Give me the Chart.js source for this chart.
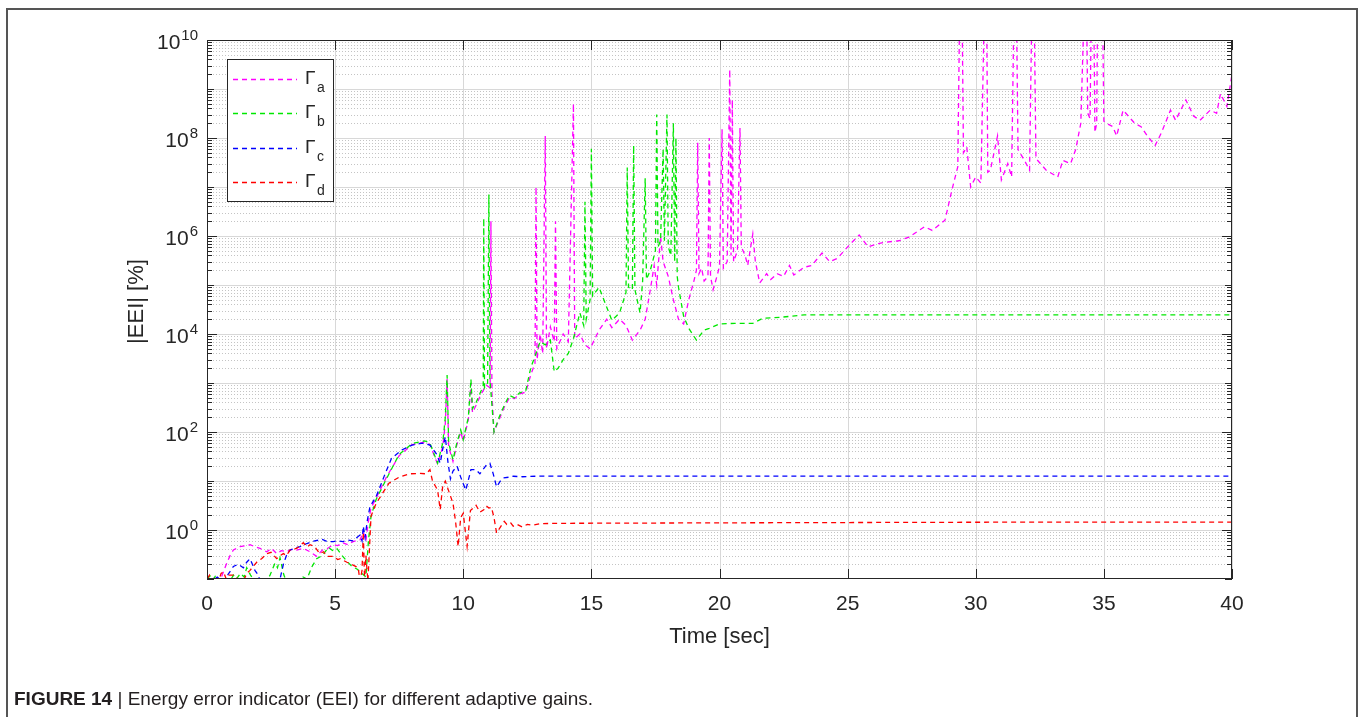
<!DOCTYPE html>
<html>
<head>
<meta charset="utf-8">
<script src="https://cdn.jsdelivr.net/npm/chart.js@4.4.1/dist/chart.umd.min.js"></script>
<style>
  html, body { margin: 0; padding: 0; background: #fff; }
  #wrap { position: relative; width: 1363px; height: 717px; overflow: hidden; }
  #frame { position: absolute; left: 6px; top: 8px; width: 1348px; height: 730px; border: 2px solid #555; border-bottom: none; }
  #chart { position: absolute; left: 0; top: 0; }
  #caption { position: absolute; left: 14px; top: 688px; font: 19px "Liberation Sans", Arial, sans-serif; color: #231f20; white-space: nowrap; }
</style>
</head>
<body>
<div id="wrap">
  <div id="frame"></div>
  <canvas id="chart" width="1363" height="717"></canvas>
  <div id="caption"><b>FIGURE 14</b> | Energy error indicator (EEI) for different adaptive gains.</div>
</div>
<script>
/* global Chart */

// [time (s), |EEI| (%)]
const GAMMA_A = [
    [0, 0.09], [0.5, 0.09], [0.77, 0.21], [0.9, 0.3], [1.03, 0.39], [1.29, 0.46], [1.5, 0.48], [1.68, 0.5],
    [1.9, 0.45], [2.07, 0.42], [2.33, 0.36], [2.52, 0.42], [2.72, 0.33], [2.9, 0.38], [3.1, 0.36], [3.3, 0.4],
    [3.5, 0.39], [3.76, 0.42], [4.02, 0.36], [4.28, 0.29], [4.5, 0.39], [4.7, 0.42], [4.93, 0.5], [5.1, 0.48],
    [5.3, 0.55], [5.5, 0.5], [5.7, 0.58], [5.97, 0.63], [6.1, 0.9], [6.2, 0.6], [6.3, 1.5], [6.4, 2.8],
    [6.6, 4.5], [7.0, 12], [7.5, 33], [8.0, 55], [8.5, 62], [8.7, 55], [9.0, 22], [9.2, 50], [9.3, 150],
    [9.37, 1200], [9.43, 50], [9.6, 25], [9.75, 55], [9.9, 100], [10.0, 65], [10.2, 180], [10.3, 1000],
    [10.36, 250], [10.5, 350], [10.7, 600], [10.9, 900], [11.05, 800], [11.08, 2e6], [11.12, 600],
    [11.2, 100], [11.4, 180], [11.6, 320], [11.8, 500], [12.0, 480], [12.2, 600], [12.44, 650],
    [12.64, 1500], [12.8, 2500], [12.84, 1e7], [12.88, 3000], [13.0, 1e4], [13.1, 4000], [13.2, 1.1e8],
    [13.25, 5000], [13.4, 1.4e4], [13.55, 7000], [13.6, 2e6], [13.65, 5000], [13.9, 1e4], [14.1, 7000],
    [14.3, 5e8], [14.35, 8000], [14.55, 1e4], [14.75, 6000], [14.95, 5000], [15.3, 1.2e4], [15.6, 2e4],
    [15.8, 1.35e4], [16.1, 2e4], [16.35, 1.5e4], [16.6, 7500], [16.9, 1.2e4], [17.1, 2e4], [17.3, 8e4],
    [17.45, 2.5e5], [17.55, 1e5], [17.7, 1e6], [17.8, 3e5], [18.0, 1.5e5], [18.2, 5e4], [18.4, 2e4],
    [18.6, 1.6e4], [18.8, 5e4], [19.0, 1.2e5], [19.1, 2e5], [19.15, 8e7], [19.2, 1.7e5], [19.3, 2.2e5],
    [19.4, 1.2e5], [19.55, 1.5e5], [19.6, 1e8], [19.65, 1.5e5], [19.75, 8e4], [19.9, 1.5e5], [20.0, 2.4e5],
    [20.1, 1.5e8], [20.15, 2.2e5], [20.3, 3e5], [20.4, 2.5e9], [20.45, 4e5], [20.5, 6e8], [20.55, 3e5],
    [20.7, 5e5], [20.8, 1.6e8], [20.85, 6e5], [21.0, 4e5], [21.1, 2.5e5], [21.3, 1.1e6], [21.4, 3e5],
    [21.57, 1.1e5], [21.84, 1.7e5], [22.0, 1.3e5], [22.25, 1.7e5], [22.5, 1.5e5], [22.73, 2.5e5],
    [22.9, 1.6e5], [23.3, 2.3e5], [23.6, 2.5e5], [24.0, 4.5e5], [24.3, 3e5], [24.6, 3.5e5], [25.0, 6e5],
    [25.45, 1.05e6], [25.8, 6e5], [26.2, 7e5], [26.5, 7.5e5], [27.0, 8e5], [27.4, 9.5e5], [28.0, 1.55e6],
    [28.3, 1.3e6], [28.8, 2.1e6], [29.07, 8.7e6], [29.3, 2.6e7], [29.38, 1e11], [29.46, 1e11], [29.52, 5e7],
    [29.65, 6.6e7], [29.8, 1e7], [30.0, 1.6e7], [30.2, 1.2e7], [30.35, 1e11], [30.42, 1e11], [30.47, 2e7],
    [30.57, 2.2e7], [30.85, 1.1e8], [31.0, 1.4e7], [31.25, 3e7], [31.4, 1.6e7], [31.5, 1e11], [31.58, 1e11],
    [31.65, 5.8e7], [31.9, 3.5e7], [32.1, 2.2e7], [32.2, 1e11], [32.27, 1e11], [32.35, 3.8e7], [32.75, 2.2e7],
    [33.2, 1.6e7], [33.4, 3.5e7], [33.7, 3e7], [33.9, 5.8e7], [34.1, 2e8], [34.25, 1e11], [34.32, 1e11],
    [34.37, 3.2e8], [34.46, 2.5e8], [34.52, 1e11], [34.6, 1e11], [34.65, 1.3e8], [34.72, 2e8], [34.76, 1e11],
    [34.94, 1e11], [35.0, 2.2e8], [35.1, 2e8], [35.35, 1.7e8], [35.5, 1.1e8],
    [35.75, 3.7e8], [36.2, 2e8], [36.45, 1.7e8], [36.7, 1.1e8], [37.0, 7e7], [37.25, 1.3e8], [37.6, 3.7e8],
    [37.8, 2.3e8], [38.2, 6e8], [38.5, 2.8e8], [38.75, 2.3e8], [39.15, 3.7e8], [39.4, 3.2e8], [39.55, 8e8],
    [39.8, 4.4e8], [40, 2e9]
];

const GAMMA_B = [
    [0, 0.1], [0.15, 0.12], [0.25, 0.1], [0.35, 0.12], [0.45, 0.09], [0.6, 0.09], [0.9, 0.09], [1.03, 0.12],
    [1.15, 0.1], [1.3, 0.13], [1.45, 0.11], [1.55, 0.17], [1.7, 0.12], [1.8, 0.1], [2.0, 0.09], [2.33, 0.09],
    [2.46, 0.12], [2.65, 0.21], [2.75, 0.17], [2.85, 0.27], [3.0, 0.12], [3.1, 0.09], [3.6, 0.09],
    [3.75, 0.11], [3.9, 0.1], [4.1, 0.18], [4.28, 0.26], [4.5, 0.3], [4.74, 0.44], [4.9, 0.38], [5.07, 0.42],
    [5.27, 0.3], [5.46, 0.23], [5.66, 0.18], [5.85, 0.16], [6.05, 0.13], [6.2, 0.11], [6.3, 0.6], [6.4, 1.9],
    [6.6, 4.2], [7.0, 11], [7.5, 35], [8.0, 58], [8.5, 66], [8.7, 59], [9.0, 23], [9.2, 60], [9.3, 200],
    [9.37, 1450], [9.43, 60], [9.6, 27], [9.75, 60], [9.9, 110], [10.0, 70], [10.2, 200], [10.3, 1200],
    [10.36, 300], [10.5, 400], [10.7, 700], [10.78, 900], [10.8, 2.3e6], [10.83, 800], [10.95, 1000],
    [11.0, 7e6], [11.04, 1200], [11.2, 100], [11.4, 200], [11.6, 350], [11.8, 560], [12.0, 500], [12.2, 630],
    [12.44, 700], [12.64, 2100], [12.8, 3500], [13.0, 7000], [13.2, 6000], [13.4, 7500], [13.55, 1700],
    [13.7, 2000], [13.9, 3000], [14.1, 4000], [14.3, 8000], [14.55, 2.7e4], [14.7, 1.5e4], [14.75, 5e6],
    [14.8, 2e4], [14.95, 5e4], [15.0, 6e7], [15.05, 6e4], [15.3, 9e4], [15.6, 3.5e4], [15.8, 1.9e4],
    [16.1, 2.7e4], [16.35, 7e4], [16.4, 2.5e7], [16.45, 9e4], [16.6, 8e4], [16.65, 7e7], [16.7, 8e4],
    [16.9, 2.7e4], [17.0, 1.2e5], [17.1, 1.5e7], [17.15, 1.3e5], [17.3, 2e5], [17.5, 5e5], [17.55, 3e8],
    [17.6, 6e5], [17.7, 8e5], [17.8, 6e7], [17.85, 8e5], [17.95, 3e8], [18.0, 6e5], [18.1, 4e5], [18.2, 2e8],
    [18.25, 3e5], [18.3, 1e8], [18.35, 1.5e5], [18.4, 9e4], [18.6, 2.3e4], [18.8, 1.3e4], [19.1, 7500],
    [19.4, 1.2e4], [19.6, 1.3e4], [20.0, 1.6e4], [20.6, 1.65e4], [21.3, 1.65e4], [21.7, 2.1e4], [22.4, 2.2e4],
    [23.3, 2.45e4], [25, 2.45e4], [30, 2.45e4], [40, 2.45e4]
];

const GAMMA_C = [
    [0, 0.1], [0.2, 0.09], [0.4, 0.11], [0.6, 0.09], [0.7, 0.1], [0.85, 0.13], [1.03, 0.18], [1.22, 0.2],
    [1.42, 0.17], [1.55, 0.22], [1.68, 0.26], [1.87, 0.15], [2.0, 0.12], [2.07, 0.09], [2.3, 0.1], [2.6, 0.09],
    [2.85, 0.1], [2.98, 0.2], [3.1, 0.3], [3.24, 0.39], [3.4, 0.42], [3.63, 0.46], [3.9, 0.53], [4.2, 0.6],
    [4.5, 0.64], [4.7, 0.58], [4.93, 0.58], [5.1, 0.6], [5.3, 0.58], [5.5, 0.62], [5.7, 0.6], [5.97, 0.79],
    [6.05, 0.6], [6.1, 1.2], [6.17, 0.7], [6.25, 1.5], [6.36, 3], [6.6, 4.8], [6.9, 12], [7.2, 29], [7.6, 43],
    [8.0, 54], [8.4, 59], [8.7, 54], [8.95, 36], [9.1, 23], [9.2, 45], [9.3, 80], [9.4, 25], [9.5, 11],
    [9.6, 16], [9.76, 20], [9.9, 12], [10.1, 6.5], [10.3, 17], [10.5, 17], [10.65, 14], [10.9, 21],
    [11.04, 23], [11.17, 14], [11.3, 7.6], [11.45, 10], [11.56, 11.5], [11.8, 12], [11.95, 12.5],
    [12.3, 12.2], [13, 12.6], [20, 12.6], [30, 12.6], [40, 12.6]
];

const GAMMA_D = [
    [0, 0.1], [0.1, 0.12], [0.2, 0.09], [0.3, 0.11], [0.45, 0.09], [0.55, 0.13], [0.64, 0.14], [0.75, 0.1],
    [0.85, 0.12], [1.03, 0.12], [1.2, 0.1], [1.42, 0.09], [1.55, 0.13], [1.68, 0.15], [1.8, 0.18],
    [1.94, 0.22], [2.13, 0.26], [2.33, 0.33], [2.5, 0.35], [2.72, 0.26], [2.85, 0.3], [2.98, 0.33],
    [3.1, 0.3], [3.24, 0.39], [3.5, 0.42], [3.76, 0.55], [3.9, 0.45], [4.02, 0.5], [4.2, 0.46], [4.4, 0.33],
    [4.55, 0.36], [4.67, 0.29], [4.93, 0.29], [5.1, 0.25], [5.2, 0.26], [5.46, 0.22], [5.72, 0.19],
    [5.9, 0.17], [5.97, 0.09], [6.05, 0.15], [6.1, 0.9], [6.15, 0.09], [6.2, 0.3], [6.28, 0.09], [6.4, 1.9],
    [6.6, 3.5], [6.85, 5.6], [7.1, 9], [7.5, 12], [7.9, 14], [8.3, 14.3], [8.55, 14], [8.7, 17], [8.8, 10],
    [9.0, 6.5], [9.1, 2.6], [9.2, 8], [9.3, 10], [9.4, 7], [9.6, 3.5], [9.7, 1.5], [9.8, 0.46], [9.9, 1.8],
    [10.0, 2.2], [10.15, 0.46], [10.28, 2.5], [10.5, 3.2], [10.65, 2.3], [10.8, 2.6], [10.9, 3.1],
    [11.0, 2.8], [11.1, 2.9], [11.2, 1.8], [11.3, 0.87], [11.45, 1.15], [11.6, 1.5], [11.7, 1.3],
    [11.85, 1.4], [11.95, 1.2], [12.1, 1.3], [12.3, 1.15], [12.5, 1.3], [12.7, 1.25], [13, 1.35], [14, 1.37],
    [16, 1.38], [20, 1.4], [25, 1.42], [30, 1.44], [35, 1.45], [40, 1.45]
];

const SERIES = [GAMMA_A, GAMMA_B, GAMMA_C, GAMMA_D];
const SUBSCRIPTS = ['a', 'b', 'c', 'd'];
const X_TICKS = [0, 5, 10, 15, 20, 25, 30, 35, 40];
const Y_LABEL_EXP = [0, 2, 4, 6, 8, 10];
const Y_MIN = 0.1;
const Y_MAX = 1e10;

const COLORS = ['#ff00ff', '#00e800', '#0000ff', '#ff0000'];
const FONT = '"Liberation Sans", Arial, sans-serif';
const INK = '#262626';

function hline(ctx, x0, x1, y) {
    ctx.beginPath();
    ctx.moveTo(x0, y);
    ctx.lineTo(x1, y);
    ctx.stroke();
}

function vline(ctx, x, y0, y1) {
    ctx.beginPath();
    ctx.moveTo(x, y0);
    ctx.lineTo(x, y1);
    ctx.stroke();
}

function snap(v) {
    return Math.round(v) + 0.5;
}

function drawGrid(chart) {
    const { ctx, chartArea: a, scales: { x, y } } = chart;
    ctx.save();
    ctx.lineWidth = 1;

    // minor log grid, dotted
    ctx.strokeStyle = '#c4c4c4';
    ctx.setLineDash([1, 2]);
    for (let e = -1; e < 10; e++) {
        for (let m = 2; m <= 9; m++) {
            hline(ctx, a.left, a.right, snap(y.getPixelForValue(m * Math.pow(10, e))));
        }
    }

    // decades and time ticks, solid
    ctx.setLineDash([]);
    ctx.strokeStyle = '#d8d8d8';
    for (let e = 0; e < 10; e++) {
        hline(ctx, a.left, a.right, snap(y.getPixelForValue(Math.pow(10, e))));
    }
    X_TICKS.forEach((t) => vline(ctx, snap(x.getPixelForValue(t)), a.top, a.bottom));
    ctx.restore();
}

function drawAxes(chart) {
    const { ctx, chartArea: a, scales: { x, y } } = chart;
    ctx.save();
    ctx.strokeStyle = INK;
    ctx.lineWidth = 1;
    ctx.strokeRect(a.left + 0.5, a.top + 0.5, a.right - a.left - 1, a.bottom - a.top - 1);

    X_TICKS.forEach((t) => {
        const px = snap(x.getPixelForValue(t));
        vline(ctx, px, a.bottom, a.bottom - 10);
        vline(ctx, px, a.top, a.top + 10);
    });

    for (let e = -1; e <= 10; e++) {
        for (let m = 1; m <= 9; m++) {
            const v = m * Math.pow(10, e);
            if (v > Y_MAX) break;
            const py = snap(y.getPixelForValue(v));
            const len = m === 1 ? (e % 2 === 0 ? 10 : 7) : 5;
            hline(ctx, a.left, a.left + len, py);
            hline(ctx, a.right - len, a.right, py);
        }
    }

    ctx.fillStyle = INK;
    ctx.textBaseline = 'alphabetic';
    ctx.font = `21px ${FONT}`;
    ctx.textAlign = 'center';
    X_TICKS.forEach((t) => ctx.fillText(String(t), x.getPixelForValue(t), a.bottom + 31));

    const right = a.left - 9;
    Y_LABEL_EXP.forEach((e) => {
        const py = y.getPixelForValue(Math.pow(10, e));
        ctx.font = `15px ${FONT}`;
        const ew = ctx.measureText(String(e)).width;
        ctx.textAlign = 'left';
        ctx.fillText(String(e), right - ew, py + 0);
        ctx.font = `21px ${FONT}`;
        ctx.textAlign = 'right';
        ctx.fillText('10', right - ew - 1, py + 9);
    });

    ctx.font = `22px ${FONT}`;
    ctx.textAlign = 'center';
    ctx.fillText('Time [sec]', (a.left + a.right) / 2, a.bottom + 64);

    ctx.save();
    ctx.translate(a.left - 64, (a.top + a.bottom) / 2 - 8);
    ctx.rotate(-Math.PI / 2);
    ctx.fillText('|EEI| [%]', 0, 0);
    ctx.restore();
    ctx.restore();
}

function drawLegend(chart) {
    const { ctx, chartArea: a } = chart;
    const left = a.left + 20;
    const top = a.top + 19;
    const w = 106;
    const h = 142;
    ctx.save();
    ctx.fillStyle = '#fff';
    ctx.fillRect(left, top, w, h);
    ctx.strokeStyle = INK;
    ctx.lineWidth = 1;
    ctx.strokeRect(left + 0.5, top + 0.5, w, h);

    chart.data.datasets.forEach((ds, i) => {
        const ly = top + 20 + i * 34.3;
        ctx.strokeStyle = ds.borderColor;
        ctx.lineWidth = ds.borderWidth;
        ctx.setLineDash(ds.borderDash);
        hline(ctx, left + 6, left + 70, snap(ly));
        ctx.setLineDash([]);

        ctx.fillStyle = INK;
        ctx.textAlign = 'left';
        ctx.font = `19px ${FONT}`;
        ctx.fillText('Γ', left + 78, ly + 5);
        ctx.font = `14px ${FONT}`;
        ctx.fillText(SUBSCRIPTS[i], left + 90, ly + 13);
    });
    ctx.restore();
}

const figurePlugin = {
    id: 'figure',
    beforeDatasetsDraw: drawGrid,
    afterDatasetsDraw: function (chart) {
        drawAxes(chart);
        drawLegend(chart);
    }
};

new Chart(document.getElementById('chart').getContext('2d'), {
    type: 'line',
    data: {
        datasets: SERIES.map((pts, i) => ({
            label: 'Γ' + SUBSCRIPTS[i],
            data: pts.map(([t, v]) => ({ x: t, y: v })),
            borderColor: COLORS[i],
            borderWidth: 1.3,
            borderDash: [5, 4],
            pointRadius: 0,
            tension: 0,
            fill: false,
            order: SERIES.length - 1 - i
        }))
    },
    options: {
        responsive: false,
        animation: false,
        devicePixelRatio: 1,
        events: [],
        layout: { padding: { left: 207, right: 131, top: 40, bottom: 138 } },
        scales: {
            x: { type: 'linear', min: 0, max: 40, display: false },
            y: { type: 'logarithmic', min: Y_MIN, max: Y_MAX, display: false }
        },
        plugins: {
            legend: { display: false },
            tooltip: { enabled: false }
        }
    },
    plugins: [figurePlugin]
});
</script>
</body>
</html>
